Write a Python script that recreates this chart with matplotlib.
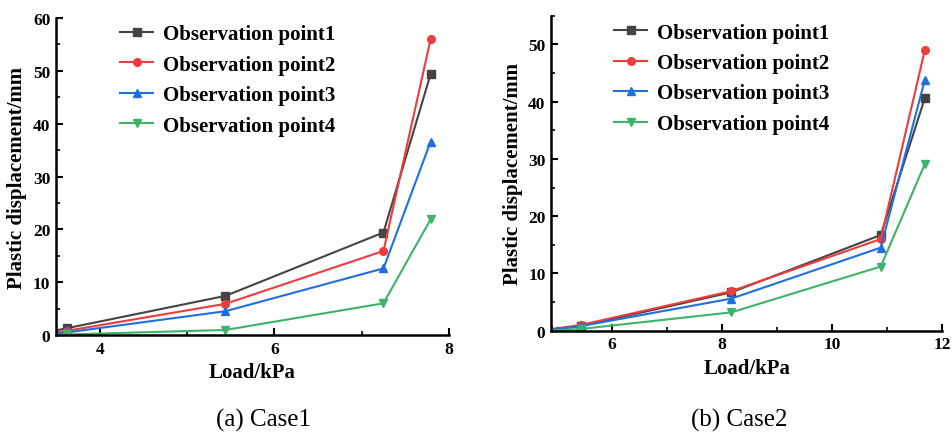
import matplotlib
matplotlib.use("Agg")
import matplotlib.pyplot as plt
from matplotlib.ticker import MultipleLocator

# Case 1 data (load in kPa, plastic displacement in mm)
load_case1 = [3.45, 3.63, 5.44, 7.25, 7.79]
case1_p1 = [0.7, 1.3, 7.4, 19.4, 49.4]
case1_p2 = [0.4, 0.8, 5.9, 15.9, 56.0]
case1_p3 = [0.2, 0.5, 4.5, 12.6, 36.6]
case1_p4 = [0.0, 0.1, 0.95, 6.0, 21.9]

# Case 2 data
load_case2 = [4.85, 5.44, 8.17, 10.88, 11.68]
case2_p1 = [0.1, 0.8, 6.7, 16.7, 40.6]
case2_p2 = [0.2, 1.0, 6.9, 16.0, 49.0]
case2_p3 = [0.1, 0.8, 5.6, 14.5, 43.8]
case2_p4 = [0.0, 0.3, 3.2, 11.2, 29.1]

series_labels = ['Observation point1', 'Observation point2',
                 'Observation point3', 'Observation point4']
colors = ['#444444', '#ee3b3b', '#1f6fe3', '#3cb36a']
markers = ['s', 'o', '^', 'v']

plt.rcParams['font.family'] = ['Liberation Serif', 'DejaVu Serif']

fig = plt.figure(figsize=(9.52, 4.35), dpi=100)
ax1 = fig.add_axes([0.0588, 0.2276, 0.4128, 0.7287])
ax2 = fig.add_axes([0.5788, 0.2375, 0.4112, 0.7241])


def draw_panel(ax, x, ys, xlim, ylim, legend_anchor, caption, cap_x):
    for y, c, m, lab in zip(ys, colors, markers, series_labels):
        ax.plot(x, y, color=c, marker=m, markersize=5.5, linewidth=1.5, label=lab)
    ax.set_xlim(*xlim)
    ax.set_ylim(*ylim)
    ax.xaxis.set_major_locator(MultipleLocator(2))
    ax.xaxis.set_minor_locator(MultipleLocator(1))
    ax.yaxis.set_major_locator(MultipleLocator(10))
    ax.yaxis.set_minor_locator(MultipleLocator(5))
    ax.tick_params(which='major', direction='in', length=5, width=1.5, labelsize=12.5, pad=4)
    ax.tick_params(which='minor', direction='in', length=3, width=1.2)
    for lbl in ax.get_xticklabels() + ax.get_yticklabels():
        lbl.set_fontweight('bold')
    ax.spines['top'].set_visible(False)
    ax.spines['right'].set_visible(False)
    ax.spines['left'].set_linewidth(1.8)
    ax.spines['bottom'].set_linewidth(1.8)
    ax.set_xlabel('Load/kPa', fontsize=15, fontweight='bold', labelpad=4)
    ax.set_ylabel('Plastic displacement/mm', fontsize=15, fontweight='bold', labelpad=4)
    ax.legend(loc='upper left', bbox_to_anchor=legend_anchor, frameon=False,
              prop={'weight': 'bold', 'size': 15}, handlelength=1.6,
              handletextpad=0.45, labelspacing=0.5, borderaxespad=0, borderpad=0)
    fig.text(cap_x, 0.033, caption, ha='center', va='center', fontsize=18)


draw_panel(ax1, load_case1, [case1_p1, case1_p2, case1_p3, case1_p4],
           (3.5, 8.0), (0, 60), (0.163, 0.98), '(a) Case1', 263 / 952)
draw_panel(ax2, load_case2, [case2_p1, case2_p2, case2_p3, case2_p4],
           (4.9, 12.0), (0, 55), (0.161, 0.978), '(b) Case2', 739 / 952)

fig.savefig('out.png', dpi=100)
